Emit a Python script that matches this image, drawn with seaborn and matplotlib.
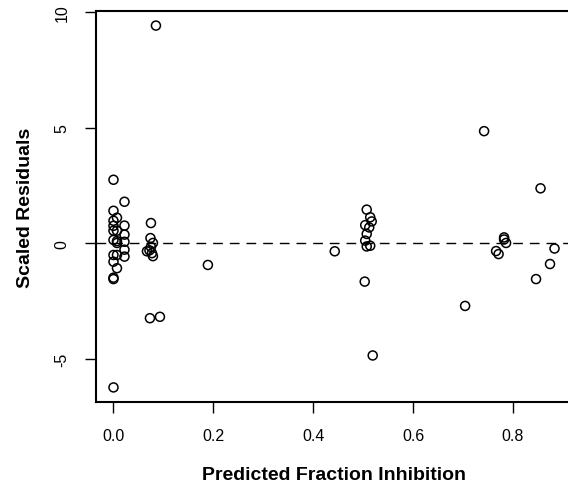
import numpy as np
import pandas as pd
import seaborn as sns
import matplotlib.pyplot as plt

# Predicted fraction inhibition (x) and scaled residuals (y)
pred = [
    0.000, 0.000, 0.000, 0.000, 0.000, 0.000, 0.000, 0.000, 0.000, 0.000, 0.000,
    0.007, 0.007, 0.007, 0.007, 0.007, 0.007,
    0.022, 0.022, 0.022, 0.022, 0.022, 0.022,
    0.075, 0.074, 0.079, 0.075, 0.067, 0.072, 0.077, 0.079, 0.073, 0.093, 0.085,
    0.189, 0.443,
    0.507, 0.514, 0.517, 0.504, 0.512, 0.507, 0.504, 0.507, 0.514, 0.503, 0.519,
    0.704, 0.742,
    0.782, 0.782, 0.786, 0.766, 0.771,
    0.855, 0.846, 0.874, 0.883,
]
resid = [
    2.75, 1.41, 0.98, 0.76, 0.55, 0.15, -0.50, -0.79, -1.48, -1.54, -6.22,
    1.11, 0.55, 0.10, 0.02, -0.50, -1.07,
    1.80, 0.77, 0.38, 0.07, -0.27, -0.57,
    0.88, 0.23, 0.02, -0.15, -0.34, -0.30, -0.42, -0.55, -3.23, -3.17, 9.41,
    -0.93, -0.34,
    1.46, 1.13, 0.95, 0.79, 0.69, 0.41, 0.12, -0.13, -0.10, -1.65, -4.84,
    -2.70, 4.85,
    0.26, 0.17, 0.02, -0.33, -0.46,
    2.38, -1.54, -0.89, -0.22,
]

df = pd.DataFrame({"pred": pred, "resid": resid})

sns.set_theme(style="white")
plt.rcParams["font.family"] = ["Liberation Sans", "DejaVu Sans"]

fig = plt.figure(figsize=(5.68, 4.89), dpi=100)
# axes box runs slightly past the right edge, as in the cropped original
ax = fig.add_axes([96 / 568, 1 - 403 / 489, (572 - 96) / 568, (403 - 12) / 489])

sns.scatterplot(data=df, x="pred", y="resid", ax=ax, marker="o", s=42,
                facecolor="none", edgecolor="black", linewidth=1.1)

ax.axhline(0, color="black", lw=1.0, ls=(0, (7, 5)))

ax.set_xlim(-0.035, 0.918)
ax.set_ylim(-6.85, 10.04)
ax.set_xticks([0.0, 0.2, 0.4, 0.6, 0.8])
ax.set_xticklabels(["0.0", "0.2", "0.4", "0.6", "0.8"])
ax.set_yticks([-5, 0, 5, 10])
ax.set_yticklabels(["-5", "0", "5", "10"], rotation=90, va="center")

ax.tick_params(direction="out", length=8, width=1.0, pad=11, labelsize=11.5,
               colors="black", bottom=True, left=True)
for sp in ax.spines.values():
    sp.set_color("black")
    sp.set_linewidth(1.5)

ax.set_xlabel("Predicted Fraction Inhibition", fontsize=14, fontweight="bold",
              labelpad=16, color="black")
ax.set_ylabel("Scaled Residuals", fontsize=14, fontweight="bold", labelpad=15,
              color="black")

fig.savefig("out.png", dpi=100)
